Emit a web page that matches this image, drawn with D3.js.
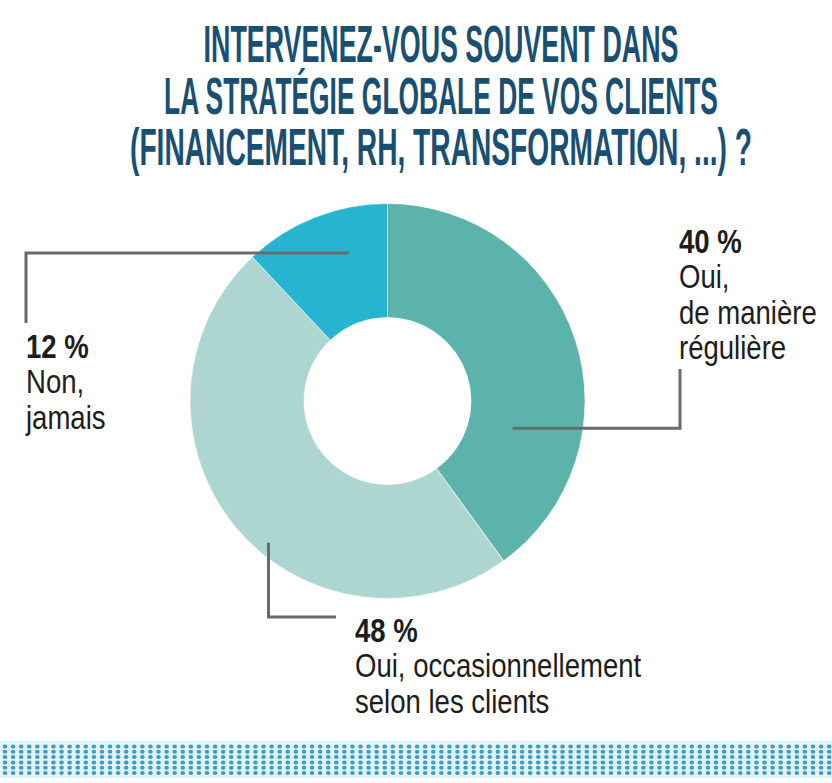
<!DOCTYPE html>
<html>
<head>
<meta charset="utf-8">
<script src="https://cdn.jsdelivr.net/npm/d3@7"></script>
<style>
  html, body { margin: 0; padding: 0; background: #fff; }
  svg { display: block; }
  .title { font-family: "Liberation Sans", Arial, sans-serif; font-weight: bold; fill: #194f73; }
  .lbl { font-family: "Liberation Sans", Arial, sans-serif; font-size: 33px; fill: #1d1d1b; }
  .lbl .pct { font-weight: bold; }
</style>
</head>
<body>
<div id="chart"></div>
<script>
const titleLines = [
  'INTERVENEZ-VOUS SOUVENT DANS',
  'LA STRATÉGIE GLOBALE DE VOS CLIENTS',
  '(FINANCEMENT, RH, TRANSFORMATION, ...) ?'
]
const titleWidths = [475, 554, 622]

const categories = ['Oui, de manière régulière', 'Oui, occasionnellement selon les clients', 'Non, jamais']
const values = [40, 48, 12]
const colors = ['#5bb3ab', '#add6d1', '#27b4d1']

// label text lines per slice
const labelLines = [
  ['Oui,', 'de manière', 'régulière'],
  ['Oui, occasionnellement', 'selon les clients'],
  ['Non,', 'jamais']
]

const width = 832
const height = 783
const cx = 387.5
const cy = 401
const outerR = 197.5
const innerR = 83.5
const labelSqueeze = 0.835

const svg = d3.select('#chart')
  .append('svg')
  .attr('width', width)
  .attr('height', height)

// title: condensed by a horizontal scale to the measured widths
const titleG = svg.append('g')
titleLines.forEach((line, i) => {
  const lg = titleG.append('g')
  const t = lg.append('text')
    .attr('class', 'title')
    .attr('x', 0)
    .attr('y', 0)
    .attr('text-anchor', 'middle')
    .attr('font-size', 51)
    .text(line)
  const natural = t.node().getComputedTextLength()
  lg.attr('transform', `translate(441,${62 + i * 51.5}) scale(${titleWidths[i] / natural},1)`)
})

// donut
const pie = d3.pie().sort(null).value((d) => d)
const arcs = pie(values)
const arc = d3.arc().innerRadius(innerR).outerRadius(outerR)

const g = svg.append('g').attr('transform', `translate(${cx},${cy})`)

g.selectAll('path')
  .data(arcs)
  .join('path')
  .attr('d', arc)
  .attr('fill', (d, i) => colors[i])
  .attr('stroke', '#fff')
  .attr('stroke-width', 0.6)

// leader lines: anchor inside slice (fraction of slice angle, radius), then elbow
const leaders = [
  { frac: 0.71, r: 128, elbowX: 680, endY: 369, label: { x: 679, y: 253 } },
  { frac: 0.44, r: 185, elbowY: 617, endX: 336, label: { x: 355, y: 642 } },
  { frac: 0.66, r: 153, elbowX: 26, endY: 323, label: { x: 26, y: 358 } }
]

const pointAt = (a, r) => [cx + r * Math.sin(a), cy - r * Math.cos(a)]

leaders.forEach((l, i) => {
  const a = arcs[i].startAngle + (arcs[i].endAngle - arcs[i].startAngle) * l.frac
  const [px, py] = pointAt(a, l.r)
  let pts
  if (l.elbowX !== undefined) {
    pts = [[px, py], [l.elbowX, py], [l.elbowX, l.endY]]
  } else {
    pts = [[px, py], [px, l.elbowY], [l.endX, l.elbowY]]
  }
  svg.append('path')
    .attr('d', d3.line()(pts))
    .attr('fill', 'none')
    .attr('stroke', '#6b6b6b')
    .attr('stroke-width', 3)

  const t = svg.append('g')
    .attr('transform', `translate(${l.label.x},${l.label.y}) scale(${labelSqueeze},1)`)
    .append('text')
    .attr('class', 'lbl')
    .attr('x', 0)
    .attr('y', 0)
  t.append('tspan')
    .attr('class', 'pct')
    .attr('x', 0)
    .text(`${values[i]} %`)
  labelLines[i].forEach((line) => {
    t.append('tspan')
      .attr('x', 0)
      .attr('dy', 35.5)
      .text(line)
  })
})

// dotted band at the bottom
const band = svg.append('g')
band.append('rect')
  .attr('x', 0)
  .attr('y', 741)
  .attr('width', width)
  .attr('height', 37)
  .attr('fill', '#e2f4f8')

const cols = d3.range(5, width, 8.08)
const rows = d3.range(0, 6).map((r) => 746.5 + r * 5.3)
band.selectAll('g')
  .data(rows)
  .join('g')
  .selectAll('ellipse')
  .data((y) => cols.map((x) => [x, y]))
  .join('ellipse')
  .attr('cx', (d) => d[0])
  .attr('cy', (d) => d[1])
  .attr('rx', 2.3)
  .attr('ry', 2)
  .attr('fill', '#3a9dc8')
</script>
</body>
</html>
